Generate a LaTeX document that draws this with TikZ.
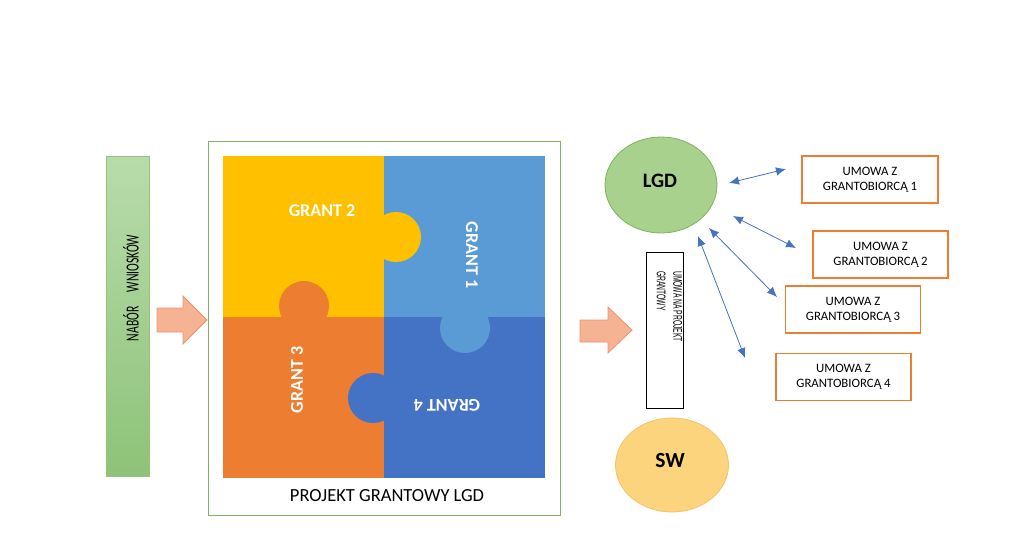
\documentclass[tikz,border=0pt]{standalone}
\usepackage{fontspec}
\setmainfont{Carlito}
\newfontfamily\arialfont{Liberation Sans}
\usetikzlibrary{arrows.meta,shapes.geometric}
\definecolor{cyellow}{HTML}{FFC000}
\definecolor{clblue}{HTML}{5B9BD5}
\definecolor{cdblue}{HTML}{4472C4}
\definecolor{corange}{HTML}{ED7D31}
\definecolor{cgreenA}{HTML}{B9DBAB}
\definecolor{cgreenB}{HTML}{8DC378}
\definecolor{cgreenline}{HTML}{7FB462}
\definecolor{carrowfill}{HTML}{F5B394}
\definecolor{carrowline}{HTML}{EA9573}
\definecolor{clgd}{HTML}{A9D18E}
\definecolor{clgdline}{HTML}{7DB35A}
\definecolor{csw}{HTML}{FDD47E}
\definecolor{cswline}{HTML}{F3C36A}
\definecolor{cdbl}{HTML}{4472C4}
\begin{document}
\begin{tikzpicture}[x=1pt,y=-1pt,
  granttext/.style={text=white,font=\fontsize{18}{20}\selectfont\bfseries,inner sep=0},
  umowabox/.style={draw=corange,line width=1.4pt,fill=white,minimum width=135,minimum height=47,align=center,font=\fontsize{12.8}{15}\selectfont,inner sep=0},
  blockarrow/.style={fill=carrowfill,draw=carrowline,line width=0.8pt},
  dblarrow/.style={draw=cdbl,line width=0.8pt,{Latex[length=10pt,width=8.5pt]}-{Latex[length=10pt,width=8.5pt]}},
  oval/.style={ellipse,draw,line width=0.8pt,inner sep=0}
]
\useasboundingbox (0,0) rectangle (1024,558);
\fill[white] (0,0) rectangle (1024,558);

% Nabor bar
\node[draw=cgreenline!80,line width=0.8pt,top color=cgreenA,bottom color=cgreenB,minimum width=43,minimum height=320,anchor=north west,inner sep=0] (nabor) at (106,156) {};
\node[rotate=90,inner sep=0,font=\fontsize{18.5}{20}\selectfont] (nabortext) at (131,288) {\scalebox{0.63}[1]{NABÓR\quad\ WNIOSKÓW}};

% block arrow 1
\draw[blockarrow] (157,308) -- (183,308) -- (183,296) -- (207,320) -- (183,344) -- (183,332) -- (157,332) -- cycle;

% outer box
\node[draw=cgreenline,line width=1.2pt,minimum width=352,minimum height=374,anchor=north west,inner sep=0] (projekt) at (208,141) {};

% puzzle quadrants
\fill[cyellow] (223,156) rectangle (384,317);
\fill[clblue] (384,156) rectangle (545,317);
\fill[corange] (223,317) rectangle (384,478);
\fill[cdblue] (384,317) rectangle (545,478);
% knobs
\fill[cyellow] (396,237) circle (25);
\fill[corange] (304,306) circle (25);
\fill[clblue] (465,328) circle (25);
\fill[cdblue] (373,398) circle (25);

\node[granttext] (g2) at (322,211) {GRANT 2};
\node[granttext,rotate=-90] (g1) at (472,255) {GRANT 1};
\node[granttext,rotate=90] (g3) at (297,380) {GRANT 3};
\node[granttext,rotate=180] (g4) at (447,405) {GRANT 4};

\node[inner sep=0,font=\fontsize{18.5}{20}\selectfont] (projtitle) at (387,496) {PROJEKT GRANTOWY LGD};

% block arrow 2
\draw[blockarrow] (580,320) -- (608,320) -- (608,307) -- (632,330) -- (608,353) -- (608,342) -- (580,342) -- cycle;

% LGD
\node[oval,draw=clgdline,fill=clgd,minimum width=112,minimum height=96] (lgd) at (661,185) {};
\node[inner sep=0,font=\fontsize{20.5}{22}\selectfont\bfseries] (lgdtext) at (660,181) {LGD};

% SW
\node[oval,draw=cswline,fill=csw,minimum width=113,minimum height=94] (sw) at (672,465) {};
\node[inner sep=0,font=\fontsize{21.5}{22}\selectfont\bfseries] (swtext) at (670,461) {SW};

% umowa na projekt
\node[draw=black,line width=1pt,minimum width=37,minimum height=156,anchor=north west,inner sep=0,fill=white] (umowaproj) at (646,252) {};
\node[rotate=-90,anchor=west,align=left,inner sep=0,font=\arialfont\fontsize{12.5}{16.5}\selectfont] (umowaprojtext) at (669.5,271) {\scalebox{0.54}[1]{UMOWA NA PROJEKT}\\\scalebox{0.54}[1]{GRANTOWY}};

% umowa boxes
\node[umowabox,minimum width=136] (u1) at (870,179.5) {UMOWA Z\\GRANTOBIORCĄ 1};
\node[umowabox] (u2) at (880.5,254.5) {UMOWA Z\\GRANTOBIORCĄ 2};
\node[umowabox] (u3) at (853,309.5) {UMOWA Z\\GRANTOBIORCĄ 3};
\node[umowabox] (u4) at (843.5,377) {UMOWA Z\\GRANTOBIORCĄ 4};

% double arrows
\coordinate (a1s) at (729,183);
\coordinate (a1e) at (786,169);
\coordinate (a2s) at (733,216);
\coordinate (a2e) at (796,248);
\coordinate (a3s) at (709,228);
\coordinate (a3e) at (777,297);
\coordinate (a4s) at (698,236);
\coordinate (a4e) at (745,358);
\draw[dblarrow] (a1s) -- (a1e);
\draw[dblarrow] (a2s) -- (a2e);
\draw[dblarrow] (a3s) -- (a3e);
\draw[dblarrow] (a4s) -- (a4e);
\end{tikzpicture}
\end{document}
